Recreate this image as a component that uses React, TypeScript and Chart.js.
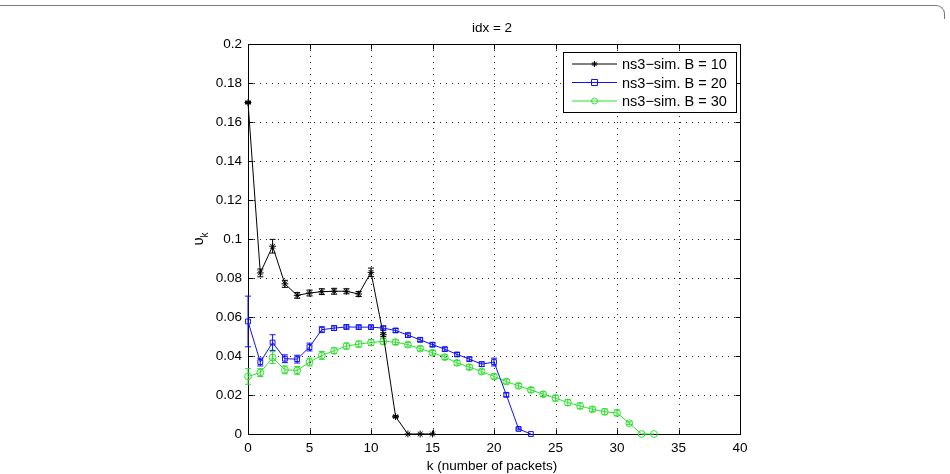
import React, { useEffect, useRef } from "react";
import { Chart, registerables } from "chart.js";

Chart.register(...registerables);

// ---- data -------------------------------------------------------------
const K_B10 = [0, 1, 2, 3, 4, 5, 6, 7, 8, 9, 10, 11, 12, 13, 14, 15];
const U_B10 = [0.17, 0.0826, 0.0963, 0.077, 0.0711, 0.0723, 0.073, 0.0732, 0.0732, 0.0718, 0.0829, 0.0509, 0.0089, 0, 0, 0];
const E_B10 = [0.0005, 0.002, 0.0035, 0.0018, 0.0015, 0.0015, 0.0015, 0.0015, 0.0013, 0.0013, 0.0022, 0.001, 0.0005, 0, 0, 0];

const K_B20 = [0, 1, 2, 3, 4, 5, 6, 7, 8, 9, 10, 11, 12, 13, 14, 15, 16, 17, 18, 19, 20, 21, 22, 23];
const U_B20 = [0.0577, 0.0369, 0.0469, 0.0386, 0.0384, 0.0446, 0.0535, 0.0543, 0.0549, 0.0548, 0.0548, 0.0543, 0.0531, 0.0507, 0.0483, 0.0458, 0.0435, 0.0408, 0.0384, 0.0358, 0.0369, 0.0201, 0.0026, 0];
const E_B20 = [0.013, 0.002, 0.004, 0.002, 0.002, 0.002, 0.0015, 0.0012, 0.001, 0.001, 0.001, 0.001, 0.001, 0.001, 0.001, 0.001, 0.001, 0.001, 0.001, 0.0012, 0.002, 0.001, 0.0005, 0];

const K_B30 = [0, 1, 2, 3, 4, 5, 6, 7, 8, 9, 10, 11, 12, 13, 14, 15, 16, 17, 18, 19, 20, 21, 22, 23, 24, 25, 26, 27, 28, 29, 30, 31, 32, 33];
const U_B30 = [0.0295, 0.0315, 0.0392, 0.0329, 0.0326, 0.0369, 0.0403, 0.0427, 0.0451, 0.0461, 0.0469, 0.0475, 0.0471, 0.0458, 0.0438, 0.0417, 0.0394, 0.0365, 0.0343, 0.032, 0.0295, 0.0269, 0.0247, 0.0226, 0.0204, 0.0184, 0.0161, 0.0144, 0.0127, 0.0114, 0.0108, 0.0055, 0, 0];
const E_B30 = [0.004, 0.002, 0.003, 0.002, 0.002, 0.002, 0.002, 0.0015, 0.0015, 0.0015, 0.0015, 0.0015, 0.0012, 0.0012, 0.0012, 0.0012, 0.0012, 0.0012, 0.0012, 0.0012, 0.0012, 0.0012, 0.0012, 0.0012, 0.0012, 0.0015, 0.0015, 0.0015, 0.0012, 0.0015, 0.0015, 0.0007, 0, 0];

const SERIES_LABELS = ["ns3\u2212sim. B = 10", "ns3\u2212sim. B = 20", "ns3\u2212sim. B = 30"];
const TITLE = "idx = 2";
const X_TITLE = "k (number of packets)";
const Y_TITLE_MAIN = "\u03C5";
const Y_TITLE_SUB = "k";

const X_MIN = 0, X_MAX = 40, X_STEP = 5;
const Y_MIN = 0, Y_MAX = 0.2, Y_STEP = 0.02;

const BLACK = "#000000";
const BLUE = "#1010f0";
const GREEN = "#2fe02f";
const FONT = "'Liberation Sans', Arial, Helvetica, sans-serif";

const toPoints = (ks: number[], us: number[]) => ks.map((k, i) => ({ x: k, y: us[i] }));

// draw one marker of a given style
function drawMarker(ctx: CanvasRenderingContext2D, style: string, x: number, y: number, r: number, color: string) {
  ctx.save();
  ctx.strokeStyle = color;
  ctx.fillStyle = color;
  ctx.lineWidth = 1;
  ctx.setLineDash([]);
  ctx.beginPath();
  if (style === "star") {
    for (let a = 0; a < 4; a++) {
      const ang = (a * Math.PI) / 4;
      ctx.moveTo(x - r * Math.cos(ang), y - r * Math.sin(ang));
      ctx.lineTo(x + r * Math.cos(ang), y + r * Math.sin(ang));
    }
  } else if (style === "rect") {
    ctx.rect(x - r, y - r, 2 * r, 2 * r);
  } else {
    ctx.arc(x, y, r, 0, Math.PI * 2);
  }
  ctx.stroke();
  ctx.restore();
}

// dotted grid, boxed axes with inward ticks
const axesFrame = {
  id: "axesFrame",
  beforeDatasetsDraw(chart: any) {
    const { ctx, chartArea: a, scales } = chart;
    const xs = scales.x, ys = scales.y;
    ctx.save();
    ctx.strokeStyle = "#222";
    ctx.lineWidth = 1;
    ctx.setLineDash([1, 5]);
    xs.ticks.forEach((t: any) => {
      const px = Math.round(xs.getPixelForValue(t.value)) + 0.5;
      ctx.beginPath();
      ctx.moveTo(px, a.top);
      ctx.lineTo(px, a.bottom);
      ctx.stroke();
    });
    ys.ticks.forEach((t: any) => {
      const py = Math.round(ys.getPixelForValue(t.value)) + 0.5;
      ctx.beginPath();
      ctx.moveTo(a.left, py);
      ctx.lineTo(a.right, py);
      ctx.stroke();
    });
    ctx.setLineDash([]);
    ctx.strokeStyle = "#000";
    const L = Math.round(a.left) + 0.5, R = Math.round(a.right) + 0.5;
    const T = Math.round(a.top) + 0.5, B = Math.round(a.bottom) + 0.5;
    ctx.strokeRect(L, T, R - L, B - T);
    const tl = 5;
    ctx.beginPath();
    xs.ticks.forEach((t: any) => {
      const px = Math.round(xs.getPixelForValue(t.value)) + 0.5;
      ctx.moveTo(px, B); ctx.lineTo(px, B - tl);
      ctx.moveTo(px, T); ctx.lineTo(px, T + tl);
    });
    ys.ticks.forEach((t: any) => {
      const py = Math.round(ys.getPixelForValue(t.value)) + 0.5;
      ctx.moveTo(L, py); ctx.lineTo(L + tl, py);
      ctx.moveTo(R, py); ctx.lineTo(R - tl, py);
    });
    ctx.stroke();
    ctx.restore();
  },
};

// vertical error bars with caps
const errorBars = {
  id: "errorBars",
  beforeDatasetsDraw(chart: any) {
    const { ctx, scales } = chart;
    const xs = scales.x, ys = scales.y;
    chart.data.datasets.forEach((ds: any) => {
      const errs: number[] = ds.errors || [];
      ctx.save();
      ctx.strokeStyle = ds.borderColor;
      ctx.lineWidth = 1;
      ctx.beginPath();
      ds.data.forEach((p: any, i: number) => {
        const e = errs[i];
        if (!e) return;
        const px = xs.getPixelForValue(p.x);
        const y1 = ys.getPixelForValue(p.y - e);
        const y2 = ys.getPixelForValue(p.y + e);
        ctx.moveTo(px, y1); ctx.lineTo(px, y2);
        ctx.moveTo(px - 3, y1); ctx.lineTo(px + 3, y1);
        ctx.moveTo(px - 3, y2); ctx.lineTo(px + 3, y2);
      });
      ctx.stroke();
      ctx.restore();
    });
  },
};

// title, axis titles and legend
const annotations = {
  id: "annotations",
  afterDraw(chart: any) {
    const { ctx, chartArea: a } = chart;
    const cx = (a.left + a.right) / 2;
    ctx.save();
    ctx.fillStyle = "#000";
    ctx.textAlign = "center";
    ctx.textBaseline = "middle";
    ctx.font = `13.5px ${FONT}`;
    ctx.fillText(TITLE, cx - 2, a.top - 16);
    ctx.fillText(X_TITLE, cx - 2, a.bottom + 32);

    // y title (rotated)
    ctx.save();
    ctx.translate(a.left - 47, (a.top + a.bottom) / 2);
    ctx.rotate(-Math.PI / 2);
    ctx.textAlign = "left";
    ctx.font = `15px ${FONT}`;
    const w = ctx.measureText(Y_TITLE_MAIN).width;
    ctx.font = `10px ${FONT}`;
    const ws = ctx.measureText(Y_TITLE_SUB).width;
    const x0 = -(w + ws) / 2;
    ctx.font = `15px ${FONT}`;
    ctx.fillText(Y_TITLE_MAIN, x0, -2);
    ctx.font = `10px ${FONT}`;
    ctx.fillText(Y_TITLE_SUB, x0 + w, 4);
    ctx.restore();

    // legend
    const boxL = a.right - 177, boxR = a.right - 4, boxT = a.top + 8, boxB = a.top + 68;
    ctx.fillStyle = "#fff";
    ctx.fillRect(boxL, boxT, boxR - boxL, boxB - boxT);
    ctx.strokeStyle = "#000";
    ctx.lineWidth = 1;
    ctx.strokeRect(Math.round(boxL) + 0.5, Math.round(boxT) + 0.5, Math.round(boxR - boxL), Math.round(boxB - boxT));
    chart.data.datasets.forEach((ds: any, i: number) => {
      const y = boxT + 12 + i * 18.5;
      const lx1 = boxL + 9, lx2 = boxL + 54;
      ctx.strokeStyle = ds.borderColor;
      ctx.beginPath();
      ctx.moveTo(lx1, y); ctx.lineTo(lx2, y);
      ctx.stroke();
      drawMarker(ctx, ds.pointStyle, (lx1 + lx2) / 2, y, 3, ds.borderColor);
      ctx.fillStyle = "#000";
      ctx.font = `14.5px ${FONT}`;
      ctx.textAlign = "left";
      ctx.textBaseline = "middle";
      ctx.fillText(ds.label, lx2 + 5, y + 1);
    });
    ctx.restore();
  },
};

export default function App() {
  const canvasRef = useRef<HTMLCanvasElement | null>(null);

  useEffect(() => {
    const canvas = canvasRef.current;
    if (!canvas) return;
    const mk = (label: string, ks: number[], us: number[], errs: number[], color: string, style: string) => ({
      label,
      data: toPoints(ks, us),
      errors: errs,
      borderColor: color,
      backgroundColor: "rgba(0,0,0,0)",
      borderWidth: 1,
      pointStyle: style,
      pointRadius: 3.4,
      pointBorderWidth: 1,
      pointBorderColor: color,
      pointBackgroundColor: "rgba(0,0,0,0)",
      tension: 0,
      fill: false,
      clip: false,
    });
    const chart = new Chart(canvas, {
      type: "line",
      data: {
        datasets: [
          mk(SERIES_LABELS[0], K_B10, U_B10, E_B10, BLACK, "star"),
          mk(SERIES_LABELS[1], K_B20, U_B20, E_B20, BLUE, "rect"),
          mk(SERIES_LABELS[2], K_B30, U_B30, E_B30, GREEN, "circle"),
        ] as any,
      },
      options: {
        animation: false,
        responsive: false,
        devicePixelRatio: 1,
        layout: { padding: { left: 0, right: 210, top: 44, bottom: 0 } },
        plugins: { legend: { display: false }, tooltip: { enabled: false }, title: { display: false } },
        scales: {
          x: {
            type: "linear",
            min: X_MIN,
            max: X_MAX,
            grid: { display: false, drawTicks: false },
            border: { display: false },
            ticks: { stepSize: X_STEP, color: "#000", padding: 6, font: { family: FONT, size: 13.5 }, maxRotation: 0 },
            afterFit: (s: any) => { s.height = 40; },
          },
          y: {
            type: "linear",
            min: Y_MIN,
            max: Y_MAX,
            grid: { display: false, drawTicks: false },
            border: { display: false },
            ticks: {
              stepSize: Y_STEP,
              color: "#000",
              padding: 6,
              font: { family: FONT, size: 13.5 },
              callback: (v: any) => String(+Number(v).toFixed(2)),
            },
            afterFit: (s: any) => { s.width = 248; },
          },
        },
      } as any,
      plugins: [axesFrame, errorBars, annotations],
    });
    return () => chart.destroy();
  }, []);

  return (
    <div style={{ position: "absolute", left: 0, top: 0, width: 950, height: 474, overflow: "hidden", background: "#fff" }}>
      <div
        style={{
          position: "absolute",
          left: -20,
          top: 5,
          width: 965,
          height: 14,
          borderTop: "1.5px solid #777",
          borderRight: "1.5px solid #777",
          borderTopRightRadius: 9,
          boxSizing: "border-box",
        }}
      />
      <canvas ref={canvasRef} width={950} height={474} style={{ position: "absolute", left: 0, top: 0 }} />
    </div>
  );
}
